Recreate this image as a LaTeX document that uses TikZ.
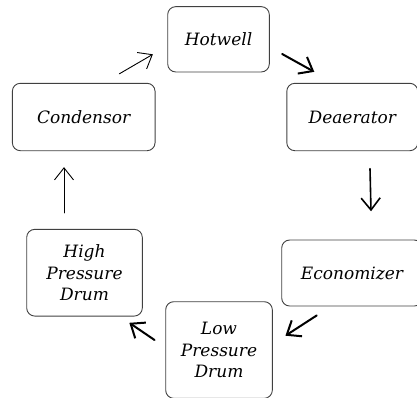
\documentclass[tikz,border=0pt]{standalone}
\usepackage{fontspec}
\setmainfont{DejaVu Serif}
\usetikzlibrary{arrows.meta}

\tikzset{
	stage/.style={draw=black!75, line width=0.9pt, rounded corners=8pt, align=center,
		font=\itshape\fontsize{17}{21.7}\selectfont, inner sep=0pt},
	flow/.style={-{Straight Barb[length=12pt, width=19pt]}, black, line cap=round}
}

\begin{document}
\begin{tikzpicture}[x=1pt, y=-1pt]
	\useasboundingbox (0,0) rectangle (417,397);
	
	%stages of the loop
	\node[stage, minimum width=101.6pt, minimum height=65.3pt] (hot) at (218.5, 39.3){Hotwell};
	\node[stage, minimum width=142.7pt, minimum height=67.4pt] (cond) at (83.7, 117){Condensor};
	\node[stage, minimum width=131pt, minimum height=67.4pt] (dea) at (352.3, 117){Deaerator};
	\node[stage, minimum width=140.6pt, minimum height=66pt] (eco) at (352, 273){Economizer};
	\node[stage, minimum width=115.6pt, minimum height=86.7pt] (hpd) at (84.5, 272.7){High\\Pressure\\Drum};
	\node[stage, minimum width=106.6pt, minimum height=96.6pt] (lpd) at (219, 350){Low\\Pressure\\Drum};
	
	%arrows between stages
	\draw[flow, line width=0.9pt] ([shift={(35.6,-9)}]cond.north) -- ([shift={(-14.4,15)}]hot.west);
	\draw[flow, line width=2pt] ([shift={(12.4,14.7)}]hot.east) -- ([shift={(-38,-11)}]dea.north);
	\draw[flow, line width=1.6pt] ([shift={(17.7,17.6)}]dea.south) -- ([shift={(19,-28.3)}]eco.north);
	\draw[flow, line width=2pt] ([shift={(-35.3,9)}]eco.south) -- ([shift={(12.7,-14.3)}]lpd.east);
	\draw[flow, line width=2pt] ([shift={(-10.7,-10)}]lpd.west) -- ([shift={(44.8,6.3)}]hpd.south);
	\draw[flow, line width=0.9pt] ([shift={(-20.5,-16)}]hpd.north) -- ([shift={(-19.7,16)}]cond.south);
\end{tikzpicture}
\end{document}
